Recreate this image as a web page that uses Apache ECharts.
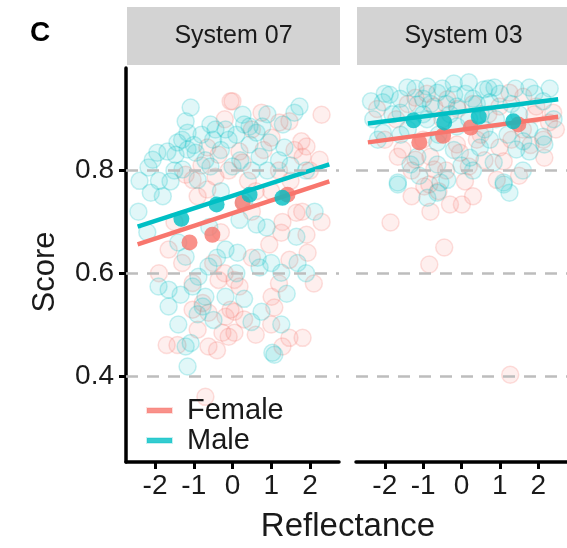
<!DOCTYPE html>
<html>
<head>
<meta charset="utf-8">
<script src="https://cdn.jsdelivr.net/npm/echarts@6/dist/echarts.min.js"></script>
<style>
  html, body { margin: 0; padding: 0; background: #fff; }
  #chart { width: 567px; height: 548px; }
</style>
</head>
<body>
<div id="chart"></div>
<script>
const panels = ["System 07", "System 03"]
const xTicks = [-2, -1, 0, 1, 2]
const yTicks = [0.4, 0.6, 0.8]

// raw points, System 07
const maleS07 = [
  [-1.08, 0.923], [-1.21, 0.896], [-1.16, 0.874], [-0.57, 0.890], [-0.44, 0.880], [-0.18, 0.880],
  [-1.42, 0.855], [-1.68, 0.837], [-1.94, 0.835], [-2.06, 0.821], [-1.47, 0.831], [-1.16, 0.841],
  [-0.95, 0.835], [-2.17, 0.806], [-1.6, 0.779], [-2.11, 0.757], [-1.29, 0.802], [-0.57, 0.808],
  [-0.9, 0.782], [0.26, 0.909], [0.44, 0.886], [0.62, 0.874], [0.77, 0.886], [1.73, 0.925],
  [1.6, 0.913], [0.95, 0.855], [1.34, 0.845], [0.44, 0.851], [0.1, 0.870], [0.7, 0.827],
  [0.0, 0.808], [-2.43, 0.72], [-2.2, 0.68], [-1.91, 0.574], [-1.65, 0.568], [-1.34, 0.558],
  [-1.65, 0.535], [-0.7, 0.554], [-0.18, 0.554], [-1.08, 0.464], [-1.21, 0.457], [-0.49, 0.509],
  [-0.77, 0.535], [-1.03, 0.574], [-0.88, 0.593], [-1.21, 0.632], [-0.62, 0.613], [-0.18, 0.646],
  [2.12, 0.72], [0.18, 0.704], [0.62, 0.695], [0.88, 0.689], [1.65, 0.671], [0.13, 0.640],
  [0.65, 0.630], [0.7, 0.611], [1.26, 0.601], [1.68, 0.620], [0.75, 0.525], [0.49, 0.505],
  [1.26, 0.500], [1.03, 0.445], [-1.16, 0.418], [1.08, 0.441], [-0.3, 0.76], [0.3, 0.74],
  [-1.9, 0.78], [-1.5, 0.80], [-1.3, 0.86], [-1.0, 0.85], [-0.8, 0.87], [-0.7, 0.82],
  [-0.3, 0.84], [-0.1, 0.86], [0.2, 0.82], [0.5, 0.80], [0.9, 0.80], [1.2, 0.82],
  [1.5, 0.81], [1.9, 0.80], [-2.4, 0.78], [-0.5, 0.86], [0.3, 0.89], [0.9, 0.91],
  [1.3, 0.89], [-1.8, 0.75], [-1.4, 0.66], [-0.6, 0.69], [-0.4, 0.63], [0.1, 0.60],
  [1.0, 0.62], [1.9, 0.60], [-0.9, 0.52], [-1.4, 0.50], [0.3, 0.55], [1.4, 0.56]
]
const femaleS07 = [
  [-0.05, 0.935], [-0.65, 0.845], [-0.36, 0.831], [-1.21, 0.792], [-1.03, 0.782], [-0.44, 0.788],
  [-0.65, 0.763], [0.0, 0.935], [0.75, 0.913], [2.3, 0.909], [1.21, 0.894], [1.47, 0.896],
  [1.78, 0.857], [1.91, 0.847], [1.81, 0.827], [1.01, 0.864], [0.18, 0.837], [0.26, 0.816],
  [2.25, 0.821], [-1.65, 0.646], [-1.03, 0.581], [-0.77, 0.542], [-0.62, 0.523], [-1.42, 0.460],
  [-0.62, 0.457], [-0.26, 0.484], [-0.1, 0.476], [-0.18, 0.515], [-0.36, 0.587], [-0.05, 0.529],
  [-1.03, 0.529], [1.65, 0.718], [1.29, 0.700], [1.26, 0.679], [1.91, 0.675], [0.95, 0.656],
  [1.94, 0.640], [1.47, 0.626], [0.05, 0.587], [0.18, 0.574], [1.01, 0.554], [1.08, 0.533],
  [0.05, 0.525], [0.05, 0.484], [1.47, 0.474], [1.81, 0.474], [1.29, 0.457], [-0.7, 0.359],
  [-1.5, 0.70], [-0.3, 0.68], [0.5, 0.72], [-0.9, 0.75], [0.4, 0.78], [1.0, 0.76], [1.5, 0.78],
  [-0.2, 0.90], [0.5, 0.88], [0.8, 0.84], [1.2, 0.80], [1.6, 0.84], [2.0, 0.80],
  [-0.8, 0.81], [-0.1, 0.80], [0.6, 0.76], [1.8, 0.72], [2.3, 0.70], [-1.9, 0.60],
  [-1.3, 0.62], [-0.5, 0.62], [-0.2, 0.60], [0.5, 0.63], [1.2, 0.58], [-0.9, 0.49],
  [-0.4, 0.45], [0.6, 0.48], [1.0, 0.50], [-1.7, 0.46], [0.3, 0.51], [2.1, 0.58]
]

// raw points, System 03
const maleS03 = [
  [-2.36, 0.935], [-1.87, 0.948], [-2.05, 0.933], [-1.41, 0.962], [-0.89, 0.964], [-0.63, 0.952],
  [-0.19, 0.948], [0.19, 0.972], [0.58, 0.958], [0.86, 0.962], [1.77, 0.962], [2.13, 0.935],
  [-1.15, 0.929], [-0.12, 0.925], [0.74, 0.933], [-1.59, 0.913], [1.77, 0.880], [2.13, 0.866],
  [1.61, 0.857], [-1.59, 0.870], [-0.12, 0.886], [0.74, 0.860], [-2.05, 0.874], [-0.63, 0.855],
  [0.48, 0.845], [1.77, 0.837], [-1.15, 0.827], [0.22, 0.825], [-0.63, 0.812], [0.84, 0.816],
  [-1.33, 0.812], [1.43, 0.841], [2.16, 0.851], [-2.18, 0.860], [-1.66, 0.777], [-0.37, 0.782],
  [1.1, 0.777], [-1.66, 0.773], [-0.63, 0.757], [-0.89, 0.747], [1.1, 0.773], [1.25, 0.757],
  [-0.55, 0.777], [-1.0, 0.94], [-0.4, 0.93], [0.3, 0.94], [1.3, 0.93], [-0.9, 0.90], [0.5, 0.91],
  [-2.0, 0.95], [-1.6, 0.94], [-1.2, 0.96], [-0.8, 0.93], [-0.5, 0.96], [-0.2, 0.97],
  [0.1, 0.95], [0.4, 0.93], [0.7, 0.96], [1.0, 0.95], [1.4, 0.96], [1.9, 0.95],
  [2.3, 0.96], [-1.8, 0.91], [-1.0, 0.91], [-0.3, 0.91], [0.2, 0.90], [0.9, 0.90],
  [1.5, 0.91], [-2.3, 0.90], [-1.4, 0.88], [-0.6, 0.87], [0.6, 0.88], [1.2, 0.87],
  [2.4, 0.90], [-0.2, 0.84], [0.3, 0.80], [1.6, 0.80], [-1.1, 0.79], [0.0, 0.81]
]
const femaleS03 = [
  [1.25, 0.952], [1.61, 0.944], [1.95, 0.925], [2.39, 0.913], [2.28, 0.894], [2.46, 0.880],
  [-1.2, 0.942], [-0.71, 0.925], [-0.37, 0.939], [0.99, 0.925], [-1.54, 0.841], [-0.81, 0.827],
  [-0.12, 0.851], [-0.04, 0.835], [0.99, 0.845], [1.1, 0.818], [2.13, 0.860], [2.16, 0.825],
  [-0.71, 0.802], [0.19, 0.808], [-0.84, 0.773], [0.92, 0.782], [-1.66, 0.827], [-1.2, 0.821],
  [-0.97, 0.769], [0.09, 0.779], [-0.81, 0.72], [-0.3, 0.734], [0.01, 0.734], [-1.85, 0.699],
  [-0.45, 0.650], [-0.84, 0.617], [1.27, 0.402], [-0.5, 0.90], [0.5, 0.87], [1.6, 0.88],
  [-2.2, 0.92], [-1.7, 0.90], [-1.4, 0.93], [-0.9, 0.95], [-0.1, 0.92], [0.3, 0.93],
  [0.7, 0.91], [1.9, 0.91], [-2.0, 0.86], [-1.0, 0.86], [0.4, 0.86], [1.3, 0.86],
  [1.8, 0.85], [-1.3, 0.80], [-0.4, 0.80], [0.6, 0.82], [1.5, 0.79], [-0.6, 0.76],
  [0.3, 0.75], [-1.3, 0.75]
]

// fitted lines (end points)
const fitMaleS07 = [[-2.45, 0.691], [2.5, 0.812]]
const fitFemaleS07 = [[-2.45, 0.656], [2.5, 0.779]]
const fitMaleS03 = [[-2.44, 0.892], [2.52, 0.939]]
const fitFemaleS03 = [[-2.44, 0.855], [2.52, 0.905]]

// binned means
const meanMaleS07 = [[-1.32, 0.706], [-0.41, 0.734], [0.44, 0.753], [1.29, 0.747]]
const meanFemaleS07 = [[-1.11, 0.660], [-0.52, 0.675], [0.26, 0.737], [1.42, 0.753]]
const meanMaleS03 = [[-1.25, 0.898], [-0.45, 0.894], [0.45, 0.905], [1.35, 0.896]]
const meanFemaleS03 = [[-1.1, 0.855], [-0.48, 0.868], [0.24, 0.884], [1.48, 0.890]]

const RED = "#F8766D"
const TEAL = "#00BFC4"
const FONT = "Liberation Sans"
const INK = "#1a1a1a"

const chart = echarts.init(document.getElementById("chart"), null, { renderer: "canvas" })

const panelLeft = [126, 356]
const panelWidth = 213
const panelTop = 68
const panelHeight = 394

const grids = panelLeft.map((l) => ({ left: l, top: panelTop, width: panelWidth, height: panelHeight }))

const xAxes = panelLeft.map((_, i) => ({
  type: "value",
  gridIndex: i,
  min: -2.75,
  max: 2.75,
  axisLine: { onZero: false, lineStyle: { color: "#000", width: 3.5 } },
  axisTick: { customValues: xTicks, length: 7, lineStyle: { color: "#000", width: 3 } },
  axisLabel: { customValues: xTicks, margin: 10, fontSize: 28, fontFamily: FONT, color: INK },
  splitLine: { show: false },
}))

const yAxes = panelLeft.map((_, i) => ({
  type: "value",
  gridIndex: i,
  min: 0.232,
  max: 1.0,
  axisLine: { show: i === 0, onZero: false, lineStyle: { color: "#000", width: 3.5 } },
  axisTick: { show: i === 0, customValues: yTicks, length: 7, lineStyle: { color: "#000", width: 3 } },
  axisLabel: {
    show: i === 0,
    customValues: yTicks,
    margin: 12,
    fontSize: 28,
    fontFamily: FONT,
    color: INK,
    formatter: (v) => v.toFixed(1),
  },
  splitLine: { show: false },
}))

function pointSeries(name, data, rgb, idx) {
  return {
    name,
    type: "scatter",
    xAxisIndex: idx,
    yAxisIndex: idx,
    data,
    symbolSize: 17,
    itemStyle: {
      color: `rgba(${rgb},0.15)`,
      borderColor: `rgba(${rgb},0.28)`,
      borderWidth: 1.5,
    },
    silent: true,
    z: 2,
  }
}

function fitSeries(name, data, color, idx) {
  return {
    name,
    type: "line",
    xAxisIndex: idx,
    yAxisIndex: idx,
    data,
    showSymbol: false,
    symbol: "none",
    lineStyle: { color, width: 4.5 },
    itemStyle: { color },
    silent: true,
    z: 3,
  }
}

function meanSeries(name, data, color, idx) {
  return {
    name,
    type: "scatter",
    xAxisIndex: idx,
    yAxisIndex: idx,
    data,
    symbolSize: 16,
    itemStyle: { color },
    silent: true,
    z: 4,
  }
}

function gridSeries(idx) {
  return {
    type: "line",
    xAxisIndex: idx,
    yAxisIndex: idx,
    data: [],
    silent: true,
    z: 1,
    markLine: {
      silent: true,
      symbol: "none",
      label: { show: false },
      lineStyle: { color: "#bdbdbd", width: 2.5, type: [12, 9] },
      data: yTicks.map((v) => ({ yAxis: v })),
    },
  }
}

const panelData = [
  { male: maleS07, female: femaleS07, fitM: fitMaleS07, fitF: fitFemaleS07, meanM: meanMaleS07, meanF: meanFemaleS07 },
  { male: maleS03, female: femaleS03, fitM: fitMaleS03, fitF: fitFemaleS03, meanM: meanMaleS03, meanF: meanFemaleS03 },
]

const series = []
panelData.forEach((p, i) => {
  series.push(gridSeries(i))
  series.push(pointSeries("Female", p.female, "248,118,109", i))
  series.push(pointSeries("Male", p.male, "0,191,196", i))
  series.push(fitSeries("Female", p.fitF, RED, i))
  series.push(fitSeries("Male", p.fitM, TEAL, i))
  series.push(meanSeries("Female", p.meanF, RED, i))
  series.push(meanSeries("Male", p.meanM, TEAL, i))
})

const strips = panels.flatMap((label, i) => [
  {
    type: "rect",
    shape: { x: panelLeft[i] + 1, y: 7, width: panelWidth, height: 58 },
    style: { fill: "#d3d3d3" },
  },
  {
    type: "text",
    x: panelLeft[i] + 1 + panelWidth / 2,
    y: 36,
    style: { text: label, fontSize: 25, fontFamily: FONT, fill: INK, align: "center", verticalAlign: "middle" },
  },
])

const option = {
  backgroundColor: "#fff",
  animation: false,
  grid: grids,
  xAxis: xAxes,
  yAxis: yAxes,
  legend: {
    orient: "vertical",
    left: 146,
    top: 396,
    padding: 0,
    itemGap: 1,
    itemWidth: 25,
    itemHeight: 5,
    selectedMode: false,
    textStyle: { fontSize: 29, fontFamily: FONT, color: INK, padding: [0, 0, 0, 10], lineHeight: 28 },
    data: [
      { name: "Female", icon: "rect", itemStyle: { color: RED } },
      { name: "Male", icon: "rect", itemStyle: { color: TEAL } },
    ],
  },
  graphic: [
    ...strips,
    {
      type: "text",
      x: 30,
      y: 33,
      style: { text: "C", fontSize: 28, fontWeight: "bold", fontFamily: FONT, fill: "#000", verticalAlign: "middle" },
    },
    {
      type: "text",
      x: 45,
      y: 272,
      rotation: Math.PI / 2,
      style: { text: "Score", fontSize: 31, fontFamily: FONT, fill: INK, align: "center", verticalAlign: "middle" },
    },
    {
      type: "text",
      x: 348,
      y: 527,
      style: { text: "Reflectance", fontSize: 33, fontFamily: FONT, fill: INK, align: "center", verticalAlign: "middle" },
    },
  ],
  series,
}

chart.setOption(option)
</script>
</body>
</html>
